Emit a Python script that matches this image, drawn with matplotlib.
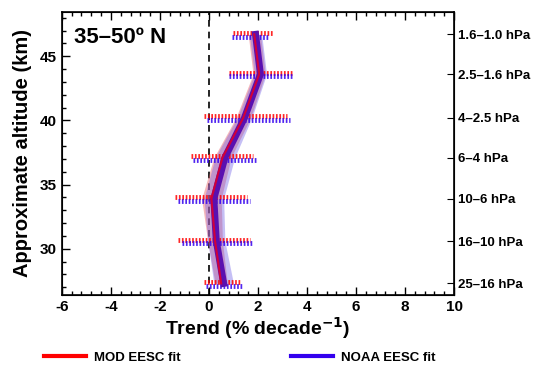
import matplotlib
matplotlib.use('Agg')
import matplotlib.pyplot as plt
from matplotlib.ticker import MultipleLocator
from matplotlib.lines import Line2D

plt.rcParams['font.family'] = ['Liberation Sans', 'DejaVu Sans']
plt.rcParams['font.weight'] = 'bold'
plt.rcParams['axes.unicode_minus'] = False

# data
altitude = [46.7, 43.6, 40.2, 37.1, 33.9, 30.6, 27.3]
levels = ['1.6–1.0 hPa', '2.5–1.6 hPa', '4–2.5 hPa', '6–4 hPa',
          '10–6 hPa', '16–10 hPa', '25–16 hPa']
mod_trend = [1.85, 2.05, 1.4, 0.55, 0.1, 0.25, 0.5]
noaa_trend = [1.9, 2.1, 1.45, 0.65, 0.2, 0.3, 0.6]
mod_unc = [0.25, 0.25, 0.3, 0.35, 0.4, 0.3, 0.25]
noaa_unc = [0.25, 0.25, 0.3, 0.4, 0.4, 0.35, 0.4]
mod_lo = [1.0, 0.82, -0.2, -0.73, -1.39, -1.27, -0.2]
mod_hi = [2.6, 3.4, 3.2, 1.8, 1.55, 1.67, 1.3]
noaa_lo = [0.94, 0.82, -0.08, -0.65, -1.27, -1.1, -0.12]
noaa_hi = [2.45, 3.4, 3.3, 1.96, 1.67, 1.8, 1.39]

RED = '#ff0000'
BLUE = '#3300ee'

fig = plt.figure(figsize=(5.38, 3.72), dpi=100)
ax = fig.add_axes([0.115, 0.207, 0.729, 0.761])

ax.axvline(0, color='black', ls=(0, (4, 3)), lw=1.2, zorder=1)

# uncertainty bands
ax.fill_betweenx(altitude, [m - u for m, u in zip(mod_trend, mod_unc)],
                 [m + u for m, u in zip(mod_trend, mod_unc)],
                 color='#e8606a', alpha=0.45, lw=0, zorder=2)
ax.fill_betweenx(altitude, [m - u for m, u in zip(noaa_trend, noaa_unc)],
                 [m + u for m, u in zip(noaa_trend, noaa_unc)],
                 color='#7060e8', alpha=0.4, lw=0, zorder=2)

# dotted range bars (red slightly above blue)
for a, l, h in zip(altitude, mod_lo, mod_hi):
    ax.plot([l, h], [a + 0.12, a + 0.12], color=RED, lw=3.5,
            ls=(0, (0.35, 0.35)), alpha=0.85, zorder=3)
for a, l, h in zip(altitude, noaa_lo, noaa_hi):
    ax.plot([l, h], [a - 0.18, a - 0.18], color=BLUE, lw=3.5,
            ls=(0, (0.35, 0.35)), alpha=0.85, zorder=3)

ax.plot(noaa_trend, altitude, color='#5a10b0', lw=5, zorder=4)
ax.plot(mod_trend, altitude, color='#d0003a', lw=1.5, zorder=5)

ax.set_xlim(-6, 10)
ax.set_ylim(26.4, 48.45)
ax.xaxis.set_major_locator(MultipleLocator(2))
ax.xaxis.set_minor_locator(MultipleLocator(0.4))
ax.yaxis.set_major_locator(MultipleLocator(5))
ax.yaxis.set_minor_locator(MultipleLocator(1))
ax.tick_params(axis='both', which='both', direction='in', top=True, right=False,
               labelsize=11, width=1)
ax.tick_params(which='major', length=6)
ax.tick_params(which='minor', length=3)
for s in ax.spines.values():
    s.set_linewidth(1.2)

ax.set_xlabel('Trend (% decade$^{\\mathbf{-1}}$)', fontsize=14, fontweight='bold', labelpad=1)
ax.set_ylabel('Approximate altitude (km)', fontsize=14.5, fontweight='bold', labelpad=6)

ax2 = ax.twinx()
ax2.set_ylim(ax.get_ylim())
ax2.set_yticks(altitude)
ax2.set_yticklabels(levels, fontsize=9.5, fontweight='bold')
ax2.tick_params(axis='y', direction='in', length=5, pad=3)

ax.text(0.032, 0.945, '35–50º N', transform=ax.transAxes, fontsize=16,
        fontweight='bold', ha='left', va='top')

handles = [Line2D([], [], color=RED, lw=3), Line2D([], [], color=BLUE, lw=3)]
fig.legend(handles, ['MOD EESC fit', 'NOAA EESC fit'], loc='lower left',
           bbox_to_anchor=(0.06, -0.01), ncol=2, frameon=False, fontsize=9.5,
           handlelength=3.2, columnspacing=8.4, handletextpad=0.55)

fig.savefig('out.png', dpi=100)
